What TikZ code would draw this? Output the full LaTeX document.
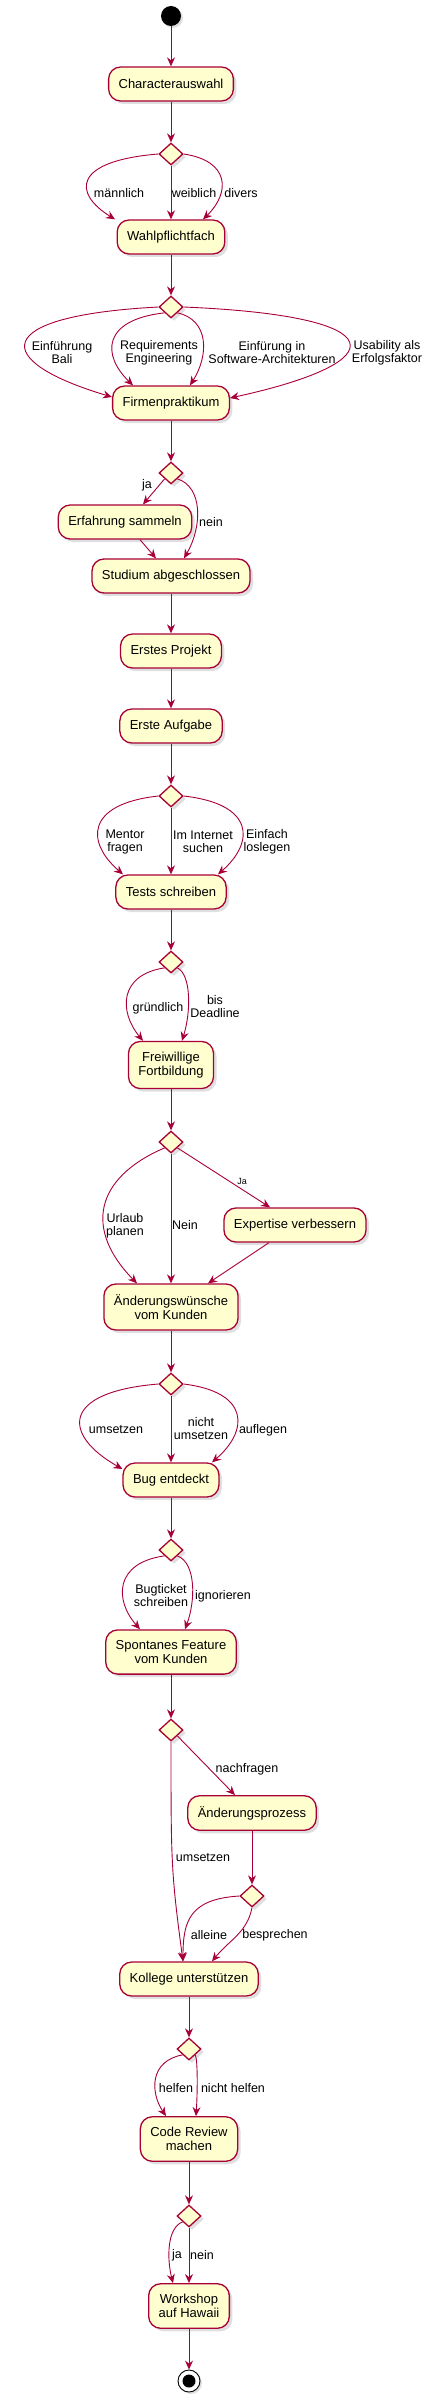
\documentclass[tikz,border=0pt]{standalone}
\usepackage{fontspec}
\setmainfont{Liberation Sans}
\usetikzlibrary{shapes.geometric,arrows.meta,shadows}
\definecolor{umlred}{HTML}{A80036}
\definecolor{umlfill}{HTML}{FEFECE}

\begin{document}
\begin{tikzpicture}[x=1pt, y=1pt,
	act/.style={draw=umlred, line width=1.3pt, fill=umlfill, rounded corners=12pt, minimum height=34pt, inner xsep=10pt, inner ysep=10.5pt, align=center, font=\fontsize{13}{14}\selectfont, drop shadow={shadow xshift=3pt, shadow yshift=-3pt, opacity=0.25}},
	choice/.style={diamond, draw=umlred, line width=1.3pt, fill=umlfill, minimum width=24pt, minimum height=22pt, inner sep=0pt, drop shadow={shadow xshift=3pt, shadow yshift=-3pt, opacity=0.25}},
	flow/.style={draw=umlred, line width=0.9pt, -{Stealth[length=9pt, width=8pt, inset=3pt]}},
	lbl/.style={align=center, inner sep=0pt, font=\fontsize{12.5}{13}\selectfont},
	startdot/.style={circle, fill=black, minimum size=20pt, inner sep=0pt, drop shadow={shadow xshift=2pt, shadow yshift=-2pt, opacity=0.25}},
	stopdot/.style={circle, draw=black, line width=0.9pt, fill=white, minimum size=22pt, inner sep=0pt, drop shadow={shadow xshift=2pt, shadow yshift=-2pt, opacity=0.25}}]
	\useasboundingbox (0,0) rectangle (432,-2408) ;

	\draw (171,-16) node[startdot] (begin) {} ;
	\draw (171,-84) node[act] (chara) {Characterauswahl} ;
	\draw (171,-154) node[choice] (d1) {} ;
	\draw (171,-237) node[act] (wahl) {Wahlpflichtfach} ;
	\draw (171,-307) node[choice] (d2) {} ;
	\draw (171,-403) node[act] (firm) {Firmenpraktikum} ;
	\draw (171,-473) node[choice] (d3) {} ;
	\draw (125,-522) node[act] (erf) {Erfahrung sammeln} ;
	\draw (171,-576) node[act] (stud) {Studium abgeschlossen} ;
	\draw (171,-651) node[act] (proj) {Erstes Projekt} ;
	\draw (171,-726) node[act] (aufg) {Erste Aufgabe} ;
	\draw (171,-796) node[choice] (d4) {} ;
	\draw (171,-892) node[act] (tests) {Tests schreiben} ;
	\draw (171,-962) node[choice] (d5) {} ;
	\draw (171,-1065) node[act] (fort) {Freiwillige\\Fortbildung} ;
	\draw (171,-1142) node[choice] (d6) {} ;
	\draw (295,-1225) node[act] (exp) {Expertise verbessern} ;
	\draw (171,-1307) node[act] (aend) {Änderungswünsche\\vom Kunden} ;
	\draw (171,-1384) node[choice] (d7) {} ;
	\draw (171,-1480) node[act] (bug) {Bug entdeckt} ;
	\draw (171,-1550) node[choice] (d8) {} ;
	\draw (171,-1652) node[act] (spont) {Spontanes Feature\\vom Kunden} ;
	\draw (171,-1730) node[choice] (d9) {} ;
	\draw (252,-1813) node[act] (proz) {Änderungsprozess} ;
	\draw (252,-1896) node[choice] (d10) {} ;
	\draw (189,-1979) node[act] (koll) {Kollege unterstützen} ;
	\draw (189,-2049) node[choice] (d11) {} ;
	\draw (189,-2139) node[act] (code) {Code Review\\machen} ;
	\draw (189,-2216) node[choice] (d12) {} ;
	\draw (189,-2306) node[act] (work) {Workshop\\auf Hawaii} ;
	\draw (189,-2381) node[stopdot] (stop) {} ;
	\fill (stop) circle (6.5) ;

	\draw[flow] (begin) -- (chara.north) ;
	\draw[flow] (chara) -- (d1) ;
	\draw[flow] (d1.west) .. controls +(-86,-7) and +(-42,26) .. ([xshift=-56pt]wahl.north) ;
	\draw[flow] (d1) -- (wahl) ;
	\draw[flow] (d1.east) .. controls +(47,-7) and +(27,26) .. ([xshift=32pt]wahl.north) ;
	\draw[flow] (wahl) -- (d2) ;
	\draw[flow] (d2.west) .. controls +(-170,-9) and +(-121,36) .. ([yshift=6pt]firm.west) ;
	\draw[flow] (d2.south west) .. controls +(-63,-7) and +(-31,30) .. ([xshift=-38pt]firm.north) ;
	\draw[flow] (d2.south east) .. controls +(32,-7) and +(19,30) .. ([xshift=19pt]firm.north) ;
	\draw[flow] (d2.east) .. controls +(214,-9) and +(165,36) .. ([yshift=5pt]firm.east) ;
	\draw[flow] (firm) -- (d3) ;
	\draw[flow] (d3.south west) -- ([xshift=18pt]erf.north) ;
	\draw[flow] (d3.south east) .. controls +(25.5,-8) and +(18.5,32) .. ([xshift=13pt]stud.north) ;
	\draw[flow] ([xshift=15pt]erf.south) -- ([xshift=-15pt]stud.north) ;
	\draw[flow] (stud) -- (proj) ;
	\draw[flow] (proj) -- (aufg) ;
	\draw[flow] (aufg) -- (d4) ;
	\draw[flow] (d4.west) .. controls +(-73,-8) and +(-37,32) .. ([xshift=-48pt]tests.north) ;
	\draw[flow] (d4) -- (tests) ;
	\draw[flow] (d4.east) .. controls +(71.5,-8) and +(36.5,32) .. ([xshift=47pt]tests.north) ;
	\draw[flow] (tests) -- (d5) ;
	\draw[flow] (d5.south west) .. controls +(-46,-7) and +(-24,29) .. ([xshift=-28pt]fort.north) ;
	\draw[flow] (d5.south east) .. controls +(14,-7) and +(9,29) .. ([xshift=11pt]fort.north) ;
	\draw[flow] (fort) -- (d6) ;
	\draw[flow] (d6.south west) .. controls +(-70,-30) and +(-53,54) .. ([xshift=-34pt]aend.north) ;
	\draw[flow] (d6) -- (aend) ;
	\draw[flow] (d6.south east) -- ([xshift=-25pt]exp.north) ;
	\draw[flow] ([xshift=-26pt]exp.south) -- ([xshift=37pt]aend.north) ;
	\draw[flow] (aend) -- (d7) ;
	\draw[flow] (d7.west) .. controls +(-98,-8) and +(-60,34) .. ([yshift=11pt]bug.west) ;
	\draw[flow] (d7) -- (bug) ;
	\draw[flow] (d7.east) .. controls +(66,-8) and +(37,32) .. ([xshift=41pt]bug.north) ;
	\draw[flow] (bug) -- (d8) ;
	\draw[flow] (d8.south west) .. controls +(-50.5,-7) and +(-25.5,29) .. ([xshift=-31pt]spont.north) ;
	\draw[flow] (d8.south east) .. controls +(18.7,-7) and +(10.7,29) .. ([xshift=14pt]spont.north) ;
	\draw[flow] (spont) -- (d9) ;
	\draw[flow] (d9.south east) -- ([xshift=-17pt]proz.north) ;
	\draw[flow] (d9.south) .. controls +(0,-120) and +(-12,90) .. ([xshift=-6pt]koll.north) ;
	\draw[flow] (proz) -- (d10) ;
	\draw[flow] (d10.west) .. controls +(-50,-3) and +(0,40) .. ([xshift=-6pt]koll.north) ;
	\draw[flow] (d10.south) .. controls +(-5,-25) and +(18,22) .. ([xshift=23pt]koll.north) ;
	\draw[flow] (koll) -- (d11) ;
	\draw[flow] (d11.south west) .. controls +(-33,-6) and +(-16,24) .. ([xshift=-23pt]code.north) ;
	\draw[flow] (d11.south east) .. controls +(2.5,-6) and +(1.5,24) .. ([xshift=7pt]code.north) ;
	\draw[flow] (code) -- (d12) ;
	\draw[flow] (d12.south west) .. controls +(-16,-6) and +(-6,24) .. ([xshift=-16pt]work.north) ;
	\draw[flow] (d12) -- (work) ;
	\draw[flow] (work) -- (stop) ;

	\draw (119,-193) node[lbl] (lmaenn) {männlich} ;
	\draw (194,-193) node[lbl] (lweib) {weiblich} ;
	\draw (241,-193) node[lbl] (ldiv) {divers} ;
	\draw (62,-353) node[lbl] (lbali) {Einführung\\Bali} ;
	\draw (159,-353) node[lbl] (lreq) {Requirements\\Engineering} ;
	\draw (272,-353) node[lbl] (lsoft) {Einfürung in\\Software-Architekturen} ;
	\draw (387,-353) node[lbl] (lusab) {Usability als\\Erfolgsfaktor} ;
	\draw (147,-485) node[lbl] (lja) {ja} ;
	\draw (211,-522) node[lbl] (lnein) {nein} ;
	\draw (125,-842) node[lbl] (lment) {Mentor\\fragen} ;
	\draw (203,-842) node[lbl] (linet) {Im Internet\\suchen} ;
	\draw (267,-842) node[lbl] (leinf) {Einfach\\loslegen} ;
	\draw (158,-1008) node[lbl] (lgrund) {gründlich} ;
	\draw (215,-1007) node[lbl] (ldead) {bis\\Deadline} ;
	\draw (242,-1181) node[lbl, font=\fontsize{9}{10}\selectfont] (lJa) {Ja} ;
	\draw (125,-1226) node[lbl] (lurl) {Urlaub\\planen} ;
	\draw (185,-1225) node[lbl] (lNein) {Nein} ;
	\draw (116,-1430) node[lbl] (lums) {umsetzen} ;
	\draw (201,-1429) node[lbl] (lnums) {nicht\\umsetzen} ;
	\draw (263,-1430) node[lbl] (lauf) {auflegen} ;
	\draw (161,-1596) node[lbl] (lticket) {Bugticket\\schreiben} ;
	\draw (223,-1596) node[lbl] (lign) {ignorieren} ;
	\draw (247,-1769) node[lbl] (lnach) {nachfragen} ;
	\draw (203,-1857) node[lbl] (lumsb) {umsetzen} ;
	\draw (209,-1935) node[lbl] (lall) {alleine} ;
	\draw (275,-1935) node[lbl] (lbespr) {besprechen} ;
	\draw (176,-2088) node[lbl] (lhelf) {helfen} ;
	\draw (233,-2088) node[lbl] (lnhelf) {nicht helfen} ;
	\draw (177,-2255) node[lbl] (ljab) {ja} ;
	\draw (202,-2255) node[lbl] (lneinb) {nein} ;
\end{tikzpicture}
\end{document}
